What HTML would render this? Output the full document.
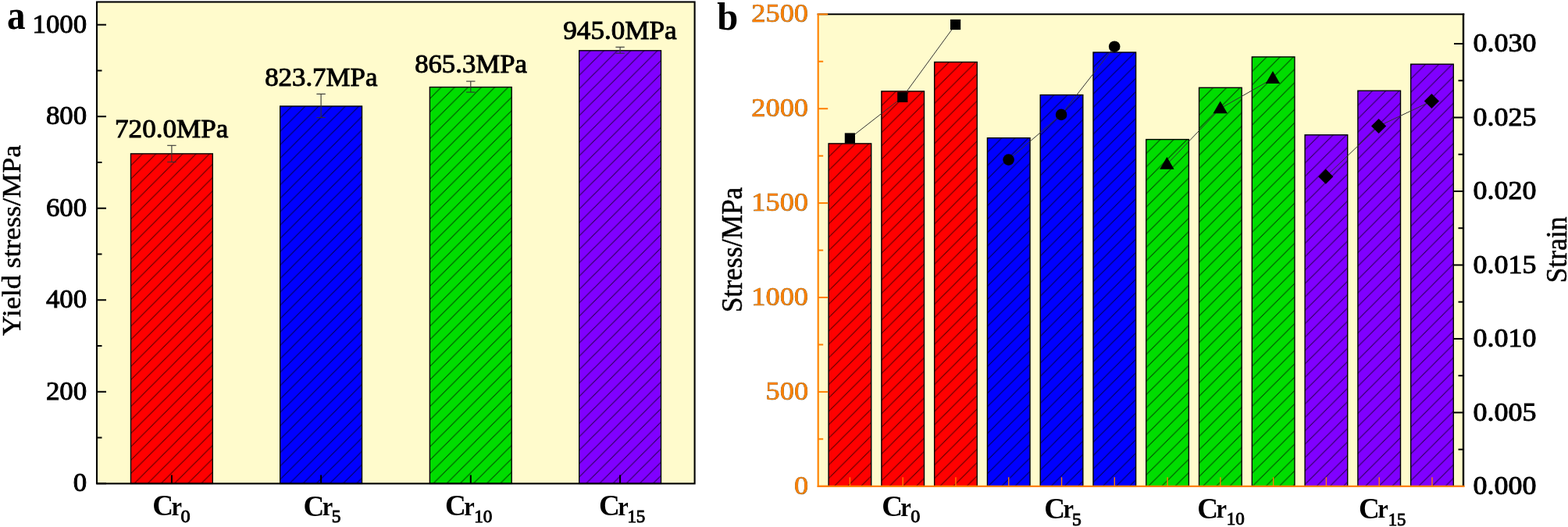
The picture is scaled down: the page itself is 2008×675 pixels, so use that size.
<!DOCTYPE html>
<html><head><meta charset="utf-8"><title>Stress chart</title>
<style>
html,body{margin:0;padding:0;background:#fff;}
svg{display:block;}
text{font-family:"Liberation Serif", serif;}
</style></head>
<body>
<svg width="2008" height="675" viewBox="0 0 2008 675">
<defs>
<pattern id="h0" patternUnits="userSpaceOnUse" x="2.35" y="0" width="17.15" height="17.15"><path d="M-2,19.15 L19.15,-2 M-2,2 L2,-2 M15.149999999999999,19.15 L19.15,15.149999999999999" stroke="#000" stroke-opacity="0.7" stroke-width="1.0" fill="none"/></pattern>
<pattern id="h1" patternUnits="userSpaceOnUse" x="12.55" y="0" width="17.15" height="17.15"><path d="M-2,19.15 L19.15,-2 M-2,2 L2,-2 M15.149999999999999,19.15 L19.15,15.149999999999999" stroke="#000" stroke-opacity="0.7" stroke-width="1.0" fill="none"/></pattern>
<pattern id="h2" patternUnits="userSpaceOnUse" x="7.95" y="0" width="17.15" height="17.15"><path d="M-2,19.15 L19.15,-2 M-2,2 L2,-2 M15.149999999999999,19.15 L19.15,15.149999999999999" stroke="#000" stroke-opacity="0.7" stroke-width="1.0" fill="none"/></pattern>
<pattern id="h3" patternUnits="userSpaceOnUse" x="15" y="0" width="17.15" height="17.15"><path d="M-2,19.15 L19.15,-2 M-2,2 L2,-2 M15.149999999999999,19.15 L19.15,15.149999999999999" stroke="#000" stroke-opacity="0.7" stroke-width="1.0" fill="none"/></pattern>
<pattern id="h4" patternUnits="userSpaceOnUse" x="10.4" y="0" width="17.15" height="17.15"><path d="M-2,19.15 L19.15,-2 M-2,2 L2,-2 M15.149999999999999,19.15 L19.15,15.149999999999999" stroke="#000" stroke-opacity="0.7" stroke-width="1.0" fill="none"/></pattern>
<pattern id="h5" patternUnits="userSpaceOnUse" x="12.5" y="0" width="17.15" height="17.15"><path d="M-2,19.15 L19.15,-2 M-2,2 L2,-2 M15.149999999999999,19.15 L19.15,15.149999999999999" stroke="#000" stroke-opacity="0.7" stroke-width="1.0" fill="none"/></pattern>
<pattern id="h6" patternUnits="userSpaceOnUse" x="8.6" y="0" width="17.15" height="17.15"><path d="M-2,19.15 L19.15,-2 M-2,2 L2,-2 M15.149999999999999,19.15 L19.15,15.149999999999999" stroke="#000" stroke-opacity="0.7" stroke-width="1.0" fill="none"/></pattern>
<pattern id="h7" patternUnits="userSpaceOnUse" x="1.85" y="0" width="17.15" height="17.15"><path d="M-2,19.15 L19.15,-2 M-2,2 L2,-2 M15.149999999999999,19.15 L19.15,15.149999999999999" stroke="#000" stroke-opacity="0.7" stroke-width="1.0" fill="none"/></pattern>
<pattern id="h8" patternUnits="userSpaceOnUse" x="13.7" y="0" width="17.15" height="17.15"><path d="M-2,19.15 L19.15,-2 M-2,2 L2,-2 M15.149999999999999,19.15 L19.15,15.149999999999999" stroke="#000" stroke-opacity="0.7" stroke-width="1.0" fill="none"/></pattern>
<pattern id="h9" patternUnits="userSpaceOnUse" x="11.3" y="0" width="17.15" height="17.15"><path d="M-2,19.15 L19.15,-2 M-2,2 L2,-2 M15.149999999999999,19.15 L19.15,15.149999999999999" stroke="#000" stroke-opacity="0.7" stroke-width="1.0" fill="none"/></pattern>
<pattern id="h10" patternUnits="userSpaceOnUse" x="1.05" y="0" width="17.15" height="17.15"><path d="M-2,19.15 L19.15,-2 M-2,2 L2,-2 M15.149999999999999,19.15 L19.15,15.149999999999999" stroke="#000" stroke-opacity="0.7" stroke-width="1.0" fill="none"/></pattern>
<pattern id="h11" patternUnits="userSpaceOnUse" x="2.35" y="0" width="17.15" height="17.15"><path d="M-2,19.15 L19.15,-2 M-2,2 L2,-2 M15.149999999999999,19.15 L19.15,15.149999999999999" stroke="#000" stroke-opacity="0.7" stroke-width="1.0" fill="none"/></pattern>
<pattern id="h12" patternUnits="userSpaceOnUse" x="14.4" y="0" width="17.15" height="17.15"><path d="M-2,19.15 L19.15,-2 M-2,2 L2,-2 M15.149999999999999,19.15 L19.15,15.149999999999999" stroke="#000" stroke-opacity="0.7" stroke-width="1.0" fill="none"/></pattern>
<pattern id="h13" patternUnits="userSpaceOnUse" x="10.7" y="0" width="17.15" height="17.15"><path d="M-2,19.15 L19.15,-2 M-2,2 L2,-2 M15.149999999999999,19.15 L19.15,15.149999999999999" stroke="#000" stroke-opacity="0.7" stroke-width="1.0" fill="none"/></pattern>
<pattern id="h14" patternUnits="userSpaceOnUse" x="4.6" y="0" width="17.15" height="17.15"><path d="M-2,19.15 L19.15,-2 M-2,2 L2,-2 M15.149999999999999,19.15 L19.15,15.149999999999999" stroke="#000" stroke-opacity="0.7" stroke-width="1.0" fill="none"/></pattern>
<pattern id="h15" patternUnits="userSpaceOnUse" x="4.2" y="0" width="17.15" height="17.15"><path d="M-2,19.15 L19.15,-2 M-2,2 L2,-2 M15.149999999999999,19.15 L19.15,15.149999999999999" stroke="#000" stroke-opacity="0.7" stroke-width="1.0" fill="none"/></pattern>
</defs>
<rect width="2008" height="675" fill="#fff"/>
<rect x="124.0" y="2.5" width="765.6" height="616.9" fill="#FFFBCC"/>
<rect x="167.5" y="196.9" width="104.8" height="422.5" fill="#FF0000"/>
<rect x="167.5" y="196.9" width="104.8" height="422.5" fill="url(#h0)"/>
<rect x="167.5" y="196.9" width="104.8" height="422.5" fill="none" stroke="#000" stroke-width="1.4"/>
<rect x="358.7" y="136" width="104.8" height="483.4" fill="#0000FF"/>
<rect x="358.7" y="136" width="104.8" height="483.4" fill="url(#h1)"/>
<rect x="358.7" y="136" width="104.8" height="483.4" fill="none" stroke="#000" stroke-width="1.4"/>
<rect x="550.4" y="111.6" width="104.8" height="507.8" fill="#00DD00"/>
<rect x="550.4" y="111.6" width="104.8" height="507.8" fill="url(#h2)"/>
<rect x="550.4" y="111.6" width="104.8" height="507.8" fill="none" stroke="#000" stroke-width="1.4"/>
<rect x="741.7" y="64.8" width="104.8" height="554.6" fill="#8000FF"/>
<rect x="741.7" y="64.8" width="104.8" height="554.6" fill="url(#h3)"/>
<rect x="741.7" y="64.8" width="104.8" height="554.6" fill="none" stroke="#000" stroke-width="1.4"/>
<line x1="219.9" y1="186.3" x2="219.9" y2="207.5" stroke="#333" stroke-width="1.1"/>
<line x1="214.2" y1="186.3" x2="225.6" y2="186.3" stroke="#333" stroke-width="1.1"/>
<line x1="214.2" y1="207.5" x2="225.6" y2="207.5" stroke="#333" stroke-width="1.1"/>
<line x1="411.1" y1="120.4" x2="411.1" y2="150.6" stroke="#333" stroke-width="1.1"/>
<line x1="405.4" y1="120.4" x2="416.8" y2="120.4" stroke="#333" stroke-width="1.1"/>
<line x1="405.4" y1="150.6" x2="416.8" y2="150.6" stroke="#333" stroke-width="1.1"/>
<line x1="602.8" y1="104.1" x2="602.8" y2="118.1" stroke="#333" stroke-width="1.1"/>
<line x1="597.1" y1="104.1" x2="608.5" y2="104.1" stroke="#333" stroke-width="1.1"/>
<line x1="597.1" y1="118.1" x2="608.5" y2="118.1" stroke="#333" stroke-width="1.1"/>
<line x1="794.1" y1="60.3" x2="794.1" y2="68.2" stroke="#333" stroke-width="1.1"/>
<line x1="788.4" y1="60.3" x2="799.8" y2="60.3" stroke="#333" stroke-width="1.1"/>
<line x1="788.4" y1="68.2" x2="799.8" y2="68.2" stroke="#333" stroke-width="1.1"/>
<line x1="124" y1="619.3" x2="136" y2="619.3" stroke="#000" stroke-width="2"/>
<line x1="124" y1="560.54" x2="130.5" y2="560.54" stroke="#000" stroke-width="2"/>
<line x1="124" y1="501.78" x2="136" y2="501.78" stroke="#000" stroke-width="2"/>
<line x1="124" y1="443.02" x2="130.5" y2="443.02" stroke="#000" stroke-width="2"/>
<line x1="124" y1="384.26" x2="136" y2="384.26" stroke="#000" stroke-width="2"/>
<line x1="124" y1="325.5" x2="130.5" y2="325.5" stroke="#000" stroke-width="2"/>
<line x1="124" y1="266.74" x2="136" y2="266.74" stroke="#000" stroke-width="2"/>
<line x1="124" y1="207.98" x2="130.5" y2="207.98" stroke="#000" stroke-width="2"/>
<line x1="124" y1="149.22" x2="136" y2="149.22" stroke="#000" stroke-width="2"/>
<line x1="124" y1="90.46" x2="130.5" y2="90.46" stroke="#000" stroke-width="2"/>
<line x1="124" y1="31.7" x2="136" y2="31.7" stroke="#000" stroke-width="2"/>
<line x1="219.9" y1="619.4" x2="219.9" y2="608.4" stroke="#000" stroke-width="2"/>
<line x1="411.1" y1="619.4" x2="411.1" y2="608.4" stroke="#000" stroke-width="2"/>
<line x1="602.8" y1="619.4" x2="602.8" y2="608.4" stroke="#000" stroke-width="2"/>
<line x1="794.1" y1="619.4" x2="794.1" y2="608.4" stroke="#000" stroke-width="2"/>
<rect x="124.0" y="2.5" width="765.6" height="616.9" fill="none" stroke="#000" stroke-width="2.1"/>
<rect x="1047.7" y="18.3" width="826.3" height="604.5" fill="#FFFBCC"/>
<rect x="1061.1" y="183.9" width="54.6" height="438.9" fill="#FF0000"/>
<rect x="1061.1" y="183.9" width="54.6" height="438.9" fill="url(#h4)"/>
<rect x="1061.1" y="183.9" width="54.6" height="438.9" fill="none" stroke="#000" stroke-width="1.4"/>
<rect x="1128.88" y="116.9" width="54.6" height="505.9" fill="#FF0000"/>
<rect x="1128.88" y="116.9" width="54.6" height="505.9" fill="url(#h5)"/>
<rect x="1128.88" y="116.9" width="54.6" height="505.9" fill="none" stroke="#000" stroke-width="1.4"/>
<rect x="1196.66" y="79.5" width="54.6" height="543.3" fill="#FF0000"/>
<rect x="1196.66" y="79.5" width="54.6" height="543.3" fill="url(#h6)"/>
<rect x="1196.66" y="79.5" width="54.6" height="543.3" fill="none" stroke="#000" stroke-width="1.4"/>
<rect x="1264.44" y="176.7" width="54.6" height="446.1" fill="#0000FF"/>
<rect x="1264.44" y="176.7" width="54.6" height="446.1" fill="url(#h7)"/>
<rect x="1264.44" y="176.7" width="54.6" height="446.1" fill="none" stroke="#000" stroke-width="1.4"/>
<rect x="1332.22" y="121.6" width="54.6" height="501.2" fill="#0000FF"/>
<rect x="1332.22" y="121.6" width="54.6" height="501.2" fill="url(#h8)"/>
<rect x="1332.22" y="121.6" width="54.6" height="501.2" fill="none" stroke="#000" stroke-width="1.4"/>
<rect x="1400" y="67" width="54.6" height="555.8" fill="#0000FF"/>
<rect x="1400" y="67" width="54.6" height="555.8" fill="url(#h9)"/>
<rect x="1400" y="67" width="54.6" height="555.8" fill="none" stroke="#000" stroke-width="1.4"/>
<rect x="1467.78" y="178.6" width="54.6" height="444.2" fill="#00DD00"/>
<rect x="1467.78" y="178.6" width="54.6" height="444.2" fill="url(#h10)"/>
<rect x="1467.78" y="178.6" width="54.6" height="444.2" fill="none" stroke="#000" stroke-width="1.4"/>
<rect x="1535.56" y="112.3" width="54.6" height="510.5" fill="#00DD00"/>
<rect x="1535.56" y="112.3" width="54.6" height="510.5" fill="url(#h11)"/>
<rect x="1535.56" y="112.3" width="54.6" height="510.5" fill="none" stroke="#000" stroke-width="1.4"/>
<rect x="1603.34" y="72.9" width="54.6" height="549.9" fill="#00DD00"/>
<rect x="1603.34" y="72.9" width="54.6" height="549.9" fill="url(#h12)"/>
<rect x="1603.34" y="72.9" width="54.6" height="549.9" fill="none" stroke="#000" stroke-width="1.4"/>
<rect x="1671.12" y="172.8" width="54.6" height="450" fill="#8000FF"/>
<rect x="1671.12" y="172.8" width="54.6" height="450" fill="url(#h13)"/>
<rect x="1671.12" y="172.8" width="54.6" height="450" fill="none" stroke="#000" stroke-width="1.4"/>
<rect x="1738.9" y="116.2" width="54.6" height="506.6" fill="#8000FF"/>
<rect x="1738.9" y="116.2" width="54.6" height="506.6" fill="url(#h14)"/>
<rect x="1738.9" y="116.2" width="54.6" height="506.6" fill="none" stroke="#000" stroke-width="1.4"/>
<rect x="1806.68" y="82.2" width="54.6" height="540.6" fill="#8000FF"/>
<rect x="1806.68" y="82.2" width="54.6" height="540.6" fill="url(#h15)"/>
<rect x="1806.68" y="82.2" width="54.6" height="540.6" fill="none" stroke="#000" stroke-width="1.4"/>
<polyline points="1088.4,177 1155.8,124.4 1223.6,31.5" fill="none" stroke="#333" stroke-width="1"/>
<polyline points="1291.6,204.6 1359.1,146.9 1427.2,59.7" fill="none" stroke="#333" stroke-width="1"/>
<polyline points="1494.4,210.5 1562.7,139 1630,100.7" fill="none" stroke="#333" stroke-width="1"/>
<polyline points="1697.8,226.2 1765.6,161.5 1833.4,129.5" fill="none" stroke="#333" stroke-width="1"/>
<rect x="1081.8" y="170.4" width="13.2" height="13.2" fill="#000"/>
<rect x="1149.2" y="117.8" width="13.2" height="13.2" fill="#000"/>
<rect x="1217" y="24.9" width="13.2" height="13.2" fill="#000"/>
<circle cx="1291.6" cy="204.6" r="7.3" fill="#000"/>
<circle cx="1359.1" cy="146.9" r="7.3" fill="#000"/>
<circle cx="1427.2" cy="59.7" r="7.3" fill="#000"/>
<polygon points="1494.4,200.9 1503.6,216.7 1485.2,216.7" fill="#000"/>
<polygon points="1562.7,129.4 1571.9,145.2 1553.5,145.2" fill="#000"/>
<polygon points="1630,91.1 1639.2,106.9 1620.8,106.9" fill="#000"/>
<polygon points="1697.8,216.6 1707.4,226.2 1697.8,235.8 1688.2,226.2" fill="#000"/>
<polygon points="1765.6,151.9 1775.2,161.5 1765.6,171.1 1756,161.5" fill="#000"/>
<polygon points="1833.4,119.9 1843,129.5 1833.4,139.1 1823.8,129.5" fill="#000"/>
<line x1="1046.7" y1="18.3" x2="1875.3" y2="18.3" stroke="#000" stroke-width="2.1"/>
<line x1="1874" y1="17.3" x2="1874" y2="622.8" stroke="#000" stroke-width="2.4"/>
<line x1="1047.7" y1="622.8" x2="1060.2" y2="622.8" stroke="#FF8000" stroke-width="2"/>
<line x1="1047.7" y1="562.35" x2="1054.2" y2="562.35" stroke="#FF8000" stroke-width="2"/>
<line x1="1047.7" y1="501.9" x2="1060.2" y2="501.9" stroke="#FF8000" stroke-width="2"/>
<line x1="1047.7" y1="441.45" x2="1054.2" y2="441.45" stroke="#FF8000" stroke-width="2"/>
<line x1="1047.7" y1="381" x2="1060.2" y2="381" stroke="#FF8000" stroke-width="2"/>
<line x1="1047.7" y1="320.55" x2="1054.2" y2="320.55" stroke="#FF8000" stroke-width="2"/>
<line x1="1047.7" y1="260.1" x2="1060.2" y2="260.1" stroke="#FF8000" stroke-width="2"/>
<line x1="1047.7" y1="199.65" x2="1054.2" y2="199.65" stroke="#FF8000" stroke-width="2"/>
<line x1="1047.7" y1="139.2" x2="1060.2" y2="139.2" stroke="#FF8000" stroke-width="2"/>
<line x1="1047.7" y1="78.75" x2="1054.2" y2="78.75" stroke="#FF8000" stroke-width="2"/>
<line x1="1047.7" y1="18.3" x2="1060.2" y2="18.3" stroke="#FF8000" stroke-width="2"/>
<line x1="1862" y1="622.9" x2="1874" y2="622.9" stroke="#000" stroke-width="2"/>
<line x1="1867.5" y1="575.66" x2="1874" y2="575.66" stroke="#000" stroke-width="2"/>
<line x1="1862" y1="528.42" x2="1874" y2="528.42" stroke="#000" stroke-width="2"/>
<line x1="1867.5" y1="481.18" x2="1874" y2="481.18" stroke="#000" stroke-width="2"/>
<line x1="1862" y1="433.94" x2="1874" y2="433.94" stroke="#000" stroke-width="2"/>
<line x1="1867.5" y1="386.7" x2="1874" y2="386.7" stroke="#000" stroke-width="2"/>
<line x1="1862" y1="339.46" x2="1874" y2="339.46" stroke="#000" stroke-width="2"/>
<line x1="1867.5" y1="292.22" x2="1874" y2="292.22" stroke="#000" stroke-width="2"/>
<line x1="1862" y1="244.98" x2="1874" y2="244.98" stroke="#000" stroke-width="2"/>
<line x1="1867.5" y1="197.74" x2="1874" y2="197.74" stroke="#000" stroke-width="2"/>
<line x1="1862" y1="150.5" x2="1874" y2="150.5" stroke="#000" stroke-width="2"/>
<line x1="1867.5" y1="103.26" x2="1874" y2="103.26" stroke="#000" stroke-width="2"/>
<line x1="1862" y1="56.02" x2="1874" y2="56.02" stroke="#000" stroke-width="2"/>
<line x1="1088.4" y1="622.8" x2="1088.4" y2="611.3" stroke="#FF8000" stroke-width="1.4"/>
<line x1="1156.18" y1="622.8" x2="1156.18" y2="611.3" stroke="#FF8000" stroke-width="1.4"/>
<line x1="1223.96" y1="622.8" x2="1223.96" y2="611.3" stroke="#FF8000" stroke-width="1.4"/>
<line x1="1291.74" y1="622.8" x2="1291.74" y2="611.3" stroke="#FF8000" stroke-width="1.4"/>
<line x1="1359.52" y1="622.8" x2="1359.52" y2="611.3" stroke="#FF8000" stroke-width="1.4"/>
<line x1="1427.3" y1="622.8" x2="1427.3" y2="611.3" stroke="#FF8000" stroke-width="1.4"/>
<line x1="1495.08" y1="622.8" x2="1495.08" y2="611.3" stroke="#FF8000" stroke-width="1.4"/>
<line x1="1562.86" y1="622.8" x2="1562.86" y2="611.3" stroke="#FF8000" stroke-width="1.4"/>
<line x1="1630.64" y1="622.8" x2="1630.64" y2="611.3" stroke="#FF8000" stroke-width="1.4"/>
<line x1="1698.42" y1="622.8" x2="1698.42" y2="611.3" stroke="#FF8000" stroke-width="1.4"/>
<line x1="1766.2" y1="622.8" x2="1766.2" y2="611.3" stroke="#FF8000" stroke-width="1.4"/>
<line x1="1833.98" y1="622.8" x2="1833.98" y2="611.3" stroke="#FF8000" stroke-width="1.4"/>
<line x1="1047.7" y1="17.2" x2="1047.7" y2="623.9" stroke="#FF8000" stroke-width="2.1"/>
<line x1="1046.7" y1="622.8" x2="1875.6" y2="622.8" stroke="#FF8000" stroke-width="2.2"/>
<text fill="#000"><tspan x="195.343" y="660.431" font-size="36.866" font-weight="bold" textLength="26.824" lengthAdjust="spacingAndGlyphs">C</tspan><tspan x="219.541" y="659.7" font-size="34.043" font-weight="bold" textLength="13.486" lengthAdjust="spacingAndGlyphs">r</tspan><tspan x="231.613" y="668.52" font-size="22.657" stroke="#000" stroke-width="0.9" textLength="12.174" lengthAdjust="spacingAndGlyphs">0</tspan></text>
<text fill="#000"><tspan x="388.543" y="661.031" font-size="36.866" font-weight="bold" textLength="26.824" lengthAdjust="spacingAndGlyphs">C</tspan><tspan x="412.741" y="660.3" font-size="34.043" font-weight="bold" textLength="13.486" lengthAdjust="spacingAndGlyphs">r</tspan><tspan x="424.664" y="669.123" font-size="22.553" stroke="#000" stroke-width="0.9" textLength="11.705" lengthAdjust="spacingAndGlyphs">5</tspan></text>
<text fill="#000"><tspan x="570.043" y="660.431" font-size="36.866" font-weight="bold" textLength="26.824" lengthAdjust="spacingAndGlyphs">C</tspan><tspan x="594.241" y="659.7" font-size="34.043" font-weight="bold" textLength="13.486" lengthAdjust="spacingAndGlyphs">r</tspan><tspan x="607.277" y="668.716" font-size="22.797" stroke="#000" stroke-width="0.9" textLength="23.187" lengthAdjust="spacingAndGlyphs">10</tspan></text>
<text fill="#000"><tspan x="767.043" y="660.431" font-size="36.866" font-weight="bold" textLength="26.824" lengthAdjust="spacingAndGlyphs">C</tspan><tspan x="791.241" y="659.7" font-size="34.043" font-weight="bold" textLength="13.486" lengthAdjust="spacingAndGlyphs">r</tspan><tspan x="803.392" y="668.706" font-size="23.121" stroke="#000" stroke-width="0.9" textLength="22.967" lengthAdjust="spacingAndGlyphs">15</tspan></text>
<text fill="#000"><tspan x="1129.143" y="661.231" font-size="36.866" font-weight="bold" textLength="26.824" lengthAdjust="spacingAndGlyphs">C</tspan><tspan x="1153.341" y="660.5" font-size="34.043" font-weight="bold" textLength="13.486" lengthAdjust="spacingAndGlyphs">r</tspan><tspan x="1166.217" y="669.133" font-size="22.238" stroke="#000" stroke-width="0.9" textLength="12.065" lengthAdjust="spacingAndGlyphs">0</tspan></text>
<text fill="#000"><tspan x="1337.243" y="663.731" font-size="36.866" font-weight="bold" textLength="26.824" lengthAdjust="spacingAndGlyphs">C</tspan><tspan x="1361.441" y="663" font-size="34.043" font-weight="bold" textLength="13.486" lengthAdjust="spacingAndGlyphs">r</tspan><tspan x="1373.055" y="672.806" font-size="23.121" stroke="#000" stroke-width="0.9" textLength="11.818" lengthAdjust="spacingAndGlyphs">5</tspan></text>
<text fill="#000"><tspan x="1533.343" y="663.731" font-size="36.866" font-weight="bold" textLength="26.824" lengthAdjust="spacingAndGlyphs">C</tspan><tspan x="1557.541" y="663" font-size="34.043" font-weight="bold" textLength="13.486" lengthAdjust="spacingAndGlyphs">r</tspan><tspan x="1570.685" y="672.12" font-size="22.657" stroke="#000" stroke-width="0.9" textLength="23.077" lengthAdjust="spacingAndGlyphs">10</tspan></text>
<text fill="#000"><tspan x="1740.043" y="663.731" font-size="36.866" font-weight="bold" textLength="26.824" lengthAdjust="spacingAndGlyphs">C</tspan><tspan x="1764.241" y="663" font-size="34.043" font-weight="bold" textLength="13.486" lengthAdjust="spacingAndGlyphs">r</tspan><tspan x="1777.708" y="673.206" font-size="23.121" stroke="#000" stroke-width="0.9" textLength="22.747" lengthAdjust="spacingAndGlyphs">15</tspan></text>
<text transform="matrix(0.941 0 0 1.048 8.989 36.538)" font-size="50" font-weight="bold" fill="#000">a</text>
<text transform="matrix(0.972 0 0 0.994 918.371 38.203)" font-size="50" font-weight="bold" fill="#000">b</text>
<text transform="matrix(0.997 0 0 0.948 93.824 629.17)" font-size="35" fill="#000" stroke="#000" stroke-width="1">0</text>
<text transform="matrix(0.997 0 0 0.948 58.928 511.65)" font-size="35" fill="#000" stroke="#000" stroke-width="1">200</text>
<text transform="matrix(0.997 0 0 0.948 58.928 394.13)" font-size="35" fill="#000" stroke="#000" stroke-width="1">400</text>
<text transform="matrix(0.997 0 0 0.948 58.928 276.61)" font-size="35" fill="#000" stroke="#000" stroke-width="1">600</text>
<text transform="matrix(0.997 0 0 0.948 58.928 159.09)" font-size="35" fill="#000" stroke="#000" stroke-width="1">800</text>
<text transform="matrix(0.997 0 0 0.948 41.479 41.57)" font-size="35" fill="#000" stroke="#000" stroke-width="1">1000</text>
<text transform="matrix(1.039 0 0 0.966 1016.9 632.774)" font-size="35" fill="#FF8000" stroke="#6a5020" stroke-width="0.7" paint-order="stroke">0</text>
<text transform="matrix(1.039 0 0 0.966 980.518 511.874)" font-size="35" fill="#FF8000" stroke="#6a5020" stroke-width="0.7" paint-order="stroke">500</text>
<text transform="matrix(1.039 0 0 0.966 962.327 390.974)" font-size="35" fill="#FF8000" stroke="#6a5020" stroke-width="0.7" paint-order="stroke">1000</text>
<text transform="matrix(1.039 0 0 0.966 962.327 270.074)" font-size="35" fill="#FF8000" stroke="#6a5020" stroke-width="0.7" paint-order="stroke">1500</text>
<text transform="matrix(1.039 0 0 0.966 962.327 149.174)" font-size="35" fill="#FF8000" stroke="#6a5020" stroke-width="0.7" paint-order="stroke">2000</text>
<text transform="matrix(1.039 0 0 0.966 962.327 28.274)" font-size="35" fill="#FF8000" stroke="#6a5020" stroke-width="0.7" paint-order="stroke">2500</text>
<text transform="matrix(1.03 0 0 0.954 1886.499 633.149)" font-size="35" fill="#000" stroke="#000" stroke-width="1">0.000</text>
<text transform="matrix(1.03 0 0 0.954 1886.499 538.682)" font-size="35" fill="#000" stroke="#000" stroke-width="1">0.005</text>
<text transform="matrix(1.03 0 0 0.954 1886.499 444.216)" font-size="35" fill="#000" stroke="#000" stroke-width="1">0.010</text>
<text transform="matrix(1.03 0 0 0.954 1886.499 349.749)" font-size="35" fill="#000" stroke="#000" stroke-width="1">0.015</text>
<text transform="matrix(1.03 0 0 0.954 1886.499 255.283)" font-size="35" fill="#000" stroke="#000" stroke-width="1">0.020</text>
<text transform="matrix(1.03 0 0 0.954 1886.499 160.816)" font-size="35" fill="#000" stroke="#000" stroke-width="1">0.025</text>
<text transform="matrix(1.03 0 0 0.954 1886.499 66.35)" font-size="35" fill="#000" stroke="#000" stroke-width="1">0.030</text>
<text transform="matrix(1.003 0 0 0.95 147.044 175.703)" font-size="35" fill="#000" stroke="#000" stroke-width="1">720.0MPa</text>
<text transform="matrix(0.996 0 0 0.954 339.129 109.699)" font-size="35" fill="#000" stroke="#000" stroke-width="1">823.7MPa</text>
<text transform="matrix(0.993 0 0 0.966 531.131 93.386)" font-size="35" fill="#000" stroke="#000" stroke-width="1">865.3MPa</text>
<text transform="matrix(1.004 0 0 0.954 721.297 49.699)" font-size="35" fill="#000" stroke="#000" stroke-width="1">945.0MPa</text>
<text transform="matrix(0 -1.026 0.975 0 26.488 430.18)" font-size="35" fill="#000" stroke="#000" stroke-width="0.5">Yield stress/MPa</text>
<text transform="matrix(0 -1.006 1.088 0 950.229 400.213)" font-size="35" fill="#000" stroke="#000" stroke-width="0.5">Stress/MPa</text>
<text transform="matrix(0 -1.017 1.076 0 2006.035 362.536)" font-size="35" fill="#000" stroke="#000" stroke-width="0.5">Strain</text>
</svg>
</body></html>
